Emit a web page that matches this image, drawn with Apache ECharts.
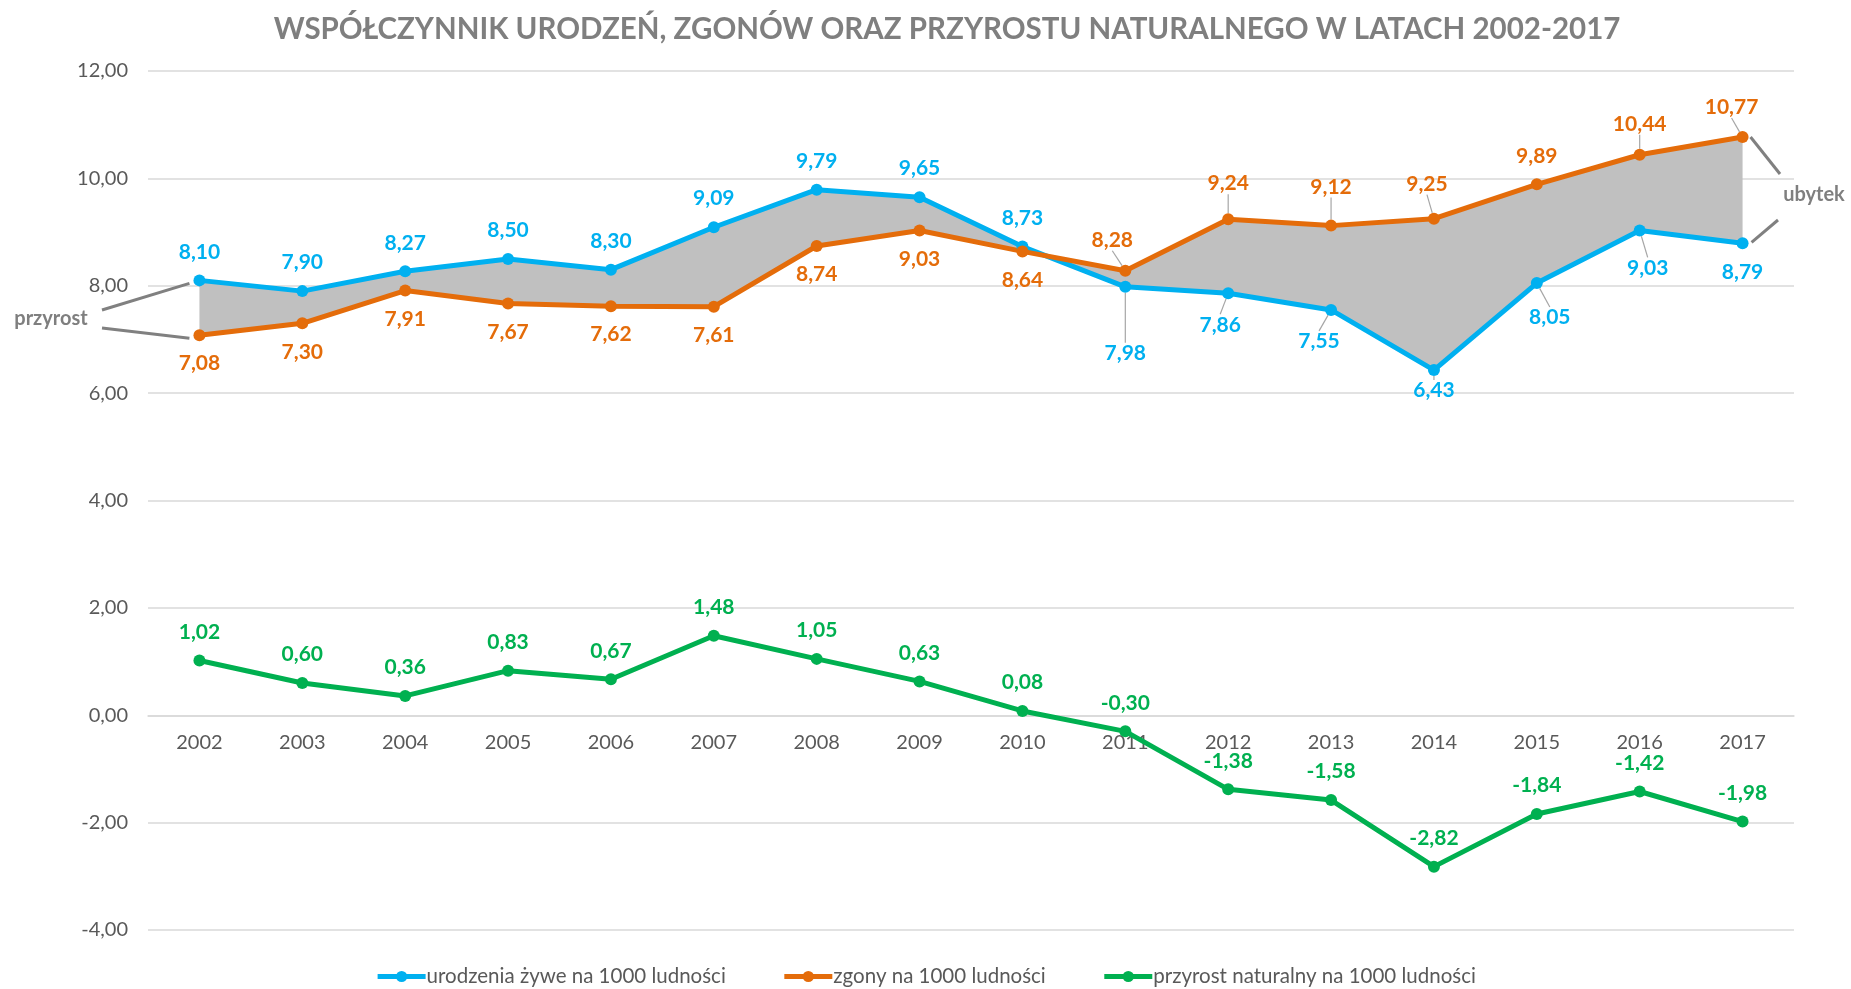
<!DOCTYPE html>
<html>
<head>
<meta charset="utf-8">
<script src="https://cdn.jsdelivr.net/npm/echarts@6/dist/echarts.min.js"></script>
<style>
  html, body { margin: 0; padding: 0; background: #fff; }
  #chart { width: 1851px; height: 989px; }
</style>
</head>
<body>
<div id="chart"></div>
<script>
// data
var years = ['2002', '2003', '2004', '2005', '2006', '2007', '2008', '2009',
  '2010', '2011', '2012', '2013', '2014', '2015', '2016', '2017'];
var births = [8.10, 7.90, 8.27, 8.50, 8.30, 9.09, 9.79, 9.65,
  8.73, 7.98, 7.86, 7.55, 6.43, 8.05, 9.03, 8.79];
var deaths = [7.08, 7.30, 7.91, 7.67, 7.62, 7.61, 8.74, 9.03,
  8.64, 8.28, 9.24, 9.12, 9.25, 9.89, 10.44, 10.77];
var naturalGrowth = [1.02, 0.60, 0.36, 0.83, 0.67, 1.48, 1.05, 0.63,
  0.08, -0.30, -1.38, -1.58, -2.82, -1.84, -1.42, -1.98];
var seriesNames = ['urodzenia żywe na 1000 ludności', 'zgony na 1000 ludności',
  'przyrost naturalny na 1000 ludności'];
var yMin = -4, yMax = 12, yStep = 2;

var FONT = 'Lato, "DejaVu Sans", sans-serif';
var BLUE = '#00B0F0', ORANGE = '#E46C0A', GREEN = '#00B050';

function comma(v) {
  return Number(v).toFixed(2).replace('.', ',');
}

// moved labels: index -> [dx, dy], these get a leader line like in excel
function lineSeries(name, values, color, belowFrom, belowTo, moved) {
  return {
    type: 'line',
    name: name,
    z: 3,
    symbol: 'circle',
    symbolSize: 12,
    lineStyle: { width: 5, color: color },
    itemStyle: { color: color },
    data: values.map(function(v, i) {
      var below = i >= belowFrom && i <= belowTo;
      return {
        value: v,
        label: { position: below ? 'bottom' : 'top' },
        labelLine: { show: !!moved[i] }
      };
    }),
    label: {
      show: true,
      distance: 12,
      color: color,
      fontFamily: FONT,
      fontWeight: 'bold',
      fontSize: 21,
      formatter: function(p) { return comma(p.value); }
    },
    labelLine: {
      show: false,
      lineStyle: { color: '#A6A6A6', width: 1.2 }
    },
    labelLayout: function(p) {
      var m = moved[p.dataIndex];
      return m ? { dx: m[0], dy: m[1] } : {};
    }
  };
}

var chart = echarts.init(document.getElementById('chart'));

var option = {
  backgroundColor: '#fff',
  animation: false,
  title: {
    text: 'WSPÓŁCZYNNIK URODZEŃ, ZGONÓW ORAZ PRZYROSTU NATURALNEGO W LATACH 2002-2017',
    left: 942,
    textAlign: 'center',
    top: 9,
    textStyle: { fontFamily: FONT, fontWeight: 'bold', fontSize: 29.5, color: '#7F7F7F' }
  },
  legend: {
    data: seriesNames,
    bottom: -3,
    left: 'center',
    itemWidth: 48,
    itemHeight: 14,
    itemGap: 56,
    lineStyle: { width: 5 },
    textStyle: { fontFamily: FONT, fontSize: 20.5, color: '#595959', padding: [0, 0, 0, -4] }
  },
  grid: { left: 148, right: 57, top: 71, bottom: 59 },
  xAxis: {
    type: 'category',
    data: years,
    boundaryGap: true,
    axisLine: { onZero: false, lineStyle: { color: '#D9D9D9', width: 1.5 } },
    axisTick: { show: false },
    axisLabel: { color: '#595959', fontFamily: FONT, fontSize: 20, margin: 17 }
  },
  yAxis: {
    type: 'value',
    min: yMin,
    max: yMax,
    interval: yStep,
    axisLine: { show: false },
    axisTick: { show: false },
    splitLine: { lineStyle: { color: '#D9D9D9', width: 1.5 } },
    axisLabel: {
      color: '#595959', fontFamily: FONT, fontSize: 20, margin: 20,
      formatter: function(v) { return comma(v); }
    }
  },
  series: [
    {
      type: 'custom',
      name: 'fill',
      silent: true,
      z: 1,
      data: [[0, 0]],
      renderItem: function(params, api) {
        // area between births and deaths
        var pts = [];
        births.forEach(function(v, i) { pts.push(api.coord([i, v])); });
        for (var i = deaths.length - 1; i >= 0; i--) {
          pts.push(api.coord([i, deaths[i]]));
        }
        return { type: 'polygon', shape: { points: pts }, style: { fill: '#C0C0C0' } };
      }
    },
    lineSeries(seriesNames[0], births, BLUE, 9, 15,
      { 9: [0, 38], 10: [-8, 3], 11: [-12, 3], 12: [0, -8], 13: [13, 6], 14: [8, 9] }),
    lineSeries(seriesNames[1], deaths, ORANGE, 0, 8,
      { 9: [-13, -2], 10: [0, -7], 11: [0, -10], 12: [-7, -6], 14: [0, -2], 15: [-11, -1] }),
    lineSeries(seriesNames[2], naturalGrowth, GREEN, -1, -1, {})
  ]
};

chart.setOption(option);

// put the category axis on the zero line
var toPx = function(v) { return chart.convertToPixel({ yAxisIndex: 0 }, v); };
chart.setOption({ xAxis: { offset: toPx(0) - toPx(yMin) } });

// side annotations anchored to the first and last points
var last = years.length - 1;
var pB0 = chart.convertToPixel({ xAxisIndex: 0, yAxisIndex: 0 }, [0, births[0]]);
var pD0 = chart.convertToPixel({ xAxisIndex: 0, yAxisIndex: 0 }, [0, deaths[0]]);
var pBn = chart.convertToPixel({ xAxisIndex: 0, yAxisIndex: 0 }, [last, births[last]]);
var pDn = chart.convertToPixel({ xAxisIndex: 0, yAxisIndex: 0 }, [last, deaths[last]]);
var guide = { stroke: '#808080', lineWidth: 3 };
var noteStyle = { fontFamily: FONT, fontWeight: 'bold', fontSize: 20, fill: '#7F7F7F' };

chart.setOption({
  graphic: [
    { type: 'line', shape: { x1: 102, y1: 310, x2: pB0[0] - 10, y2: pB0[1] + 3 }, style: guide },
    { type: 'line', shape: { x1: 102, y1: 328, x2: pD0[0] - 10, y2: pD0[1] + 3 }, style: guide },
    { type: 'text', x: 51, y: 319, style: Object.assign({ text: 'przyrost', align: 'center', verticalAlign: 'middle' }, noteStyle) },
    { type: 'line', shape: { x1: pDn[0] + 8, y1: pDn[1], x2: 1780, y2: 174 }, style: guide },
    { type: 'line', shape: { x1: pBn[0] + 9, y1: pBn[1] - 1, x2: 1778, y2: 220 }, style: guide },
    { type: 'text', x: 1814, y: 195, style: Object.assign({ text: 'ubytek', align: 'center', verticalAlign: 'middle' }, noteStyle) }
  ]
});
</script>
</body>
</html>
